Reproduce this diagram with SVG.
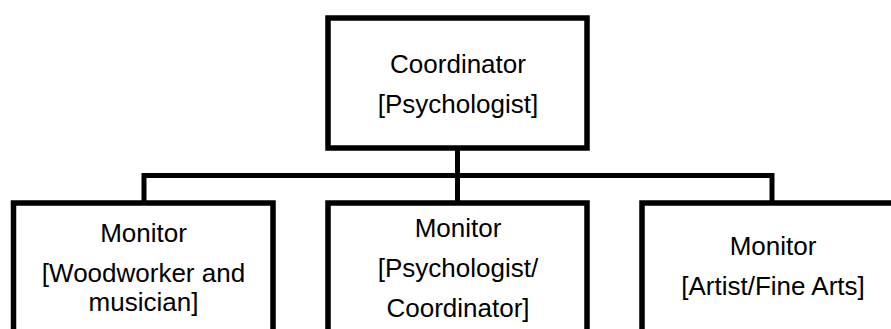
<svg xmlns="http://www.w3.org/2000/svg" width="891" height="329" viewBox="0 0 891 329">
<style>
.box{fill:#fff;stroke:#000;stroke-width:5.5}
.ln{fill:none;stroke:#000;stroke-width:5}
text{font-family:"Liberation Sans",Arial,sans-serif;font-size:26px;fill:#000;text-anchor:middle}
</style>
<rect width="891" height="329" fill="#fff"/>
<g id="connectors">
<path class="ln" d="M144 203 V175.5 H772 V203"/>
<path class="ln" d="M457.5 148 V203"/>
</g>
<g id="coordinator">
<rect class="box" x="328" y="18" width="259" height="130"/>
<text x="458" y="73">Coordinator</text>
<text x="458" y="113">[Psychologist]</text>
</g>
<g id="monitor-woodworker">
<rect class="box" x="13.5" y="203" width="259.5" height="200"/>
<text x="143.5" y="242">Monitor</text>
<text x="143.5" y="282">[Woodworker and</text>
<text x="143.5" y="311">musician]</text>
</g>
<g id="monitor-psychologist">
<rect class="box" x="328" y="203" width="259" height="200"/>
<text x="458" y="237">Monitor</text>
<text x="458" y="277">[Psychologist/</text>
<text x="458" y="317">Coordinator]</text>
</g>
<g id="monitor-artist">
<rect class="box" x="642" y="203" width="262" height="200"/>
<text x="773" y="255">Monitor</text>
<text x="773" y="295">[Artist/Fine Arts]</text>
</g>
</svg>
